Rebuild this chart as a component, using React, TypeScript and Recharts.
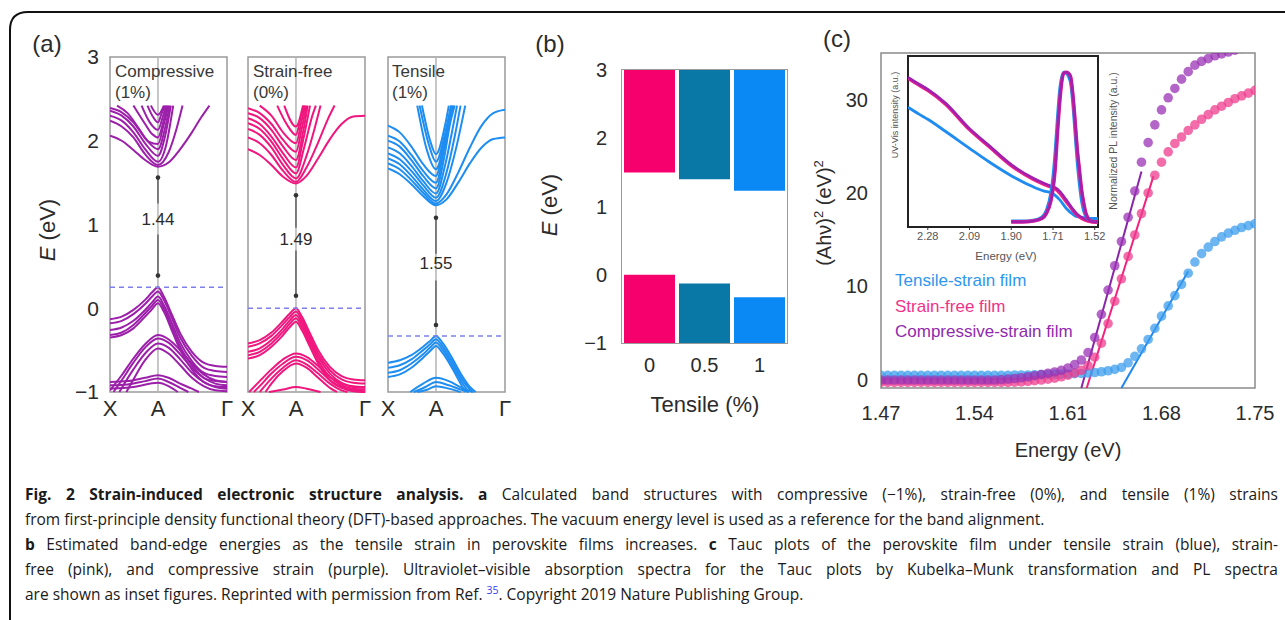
import React from "react";
import {
  LineChart, Line, XAxis, YAxis, ReferenceLine, ReferenceDot, ReferenceArea,
  BarChart, Bar, Cell, ScatterChart, Scatter,
} from "recharts";

const FONT = "'Liberation Sans', Arial, Helvetica, sans-serif";
const TXT = "#2b2b2b";

// ---------- (a) band structures: bands are [k, E] pairs; k = 0 at X, 0.41 at A, 1 at Γ
const kTicks = [0, 0.41, 1];
const kLabels = ["X", "A", "Γ"];

const compCond = [
  [[0, 2.06], [0.1, 2.0], [0.2, 1.89], [0.3, 1.77], [0.41, 1.69], [0.5, 1.74], [0.6, 1.9], [0.7, 2.1], [0.78, 2.28], [0.85, 2.42]],
  [[0, 2.24], [0.1, 2.17], [0.2, 2.04], [0.3, 1.84], [0.41, 1.71], [0.5, 1.86], [0.57, 2.15], [0.62, 2.42]],
  [[0, 2.3], [0.1, 2.24], [0.2, 2.1], [0.3, 1.9], [0.41, 1.75], [0.48, 1.95], [0.54, 2.42]],
  [[0, 2.36], [0.1, 2.3], [0.2, 2.17], [0.3, 1.97], [0.41, 1.82], [0.47, 2.05], [0.52, 2.42]],
  [[0, 2.39], [0.1, 2.34], [0.2, 2.22], [0.3, 2.03], [0.41, 1.9], [0.47, 2.15], [0.51, 2.42]],
  [[0.06, 2.42], [0.15, 2.33], [0.25, 2.14], [0.33, 1.99], [0.41, 1.96], [0.46, 2.2], [0.5, 2.42]],
  [[0.2, 2.42], [0.3, 2.2], [0.36, 2.08], [0.41, 2.04], [0.46, 2.25], [0.49, 2.42]],
  [[0.27, 2.42], [0.34, 2.22], [0.41, 2.13], [0.45, 2.28], [0.48, 2.42]],
  [[0.32, 2.42], [0.37, 2.28], [0.41, 2.22], [0.44, 2.32], [0.47, 2.42]],
  [[0.35, 2.42], [0.41, 2.31], [0.46, 2.42]],
];
const compVal = [
  [[0, -0.13], [0.1, -0.1], [0.2, -0.02], [0.3, 0.1], [0.36, 0.19], [0.41, 0.25], [0.46, 0.14], [0.53, -0.08], [0.6, -0.3], [0.7, -0.52], [0.8, -0.65], [0.9, -0.69], [1, -0.7]],
  [[0, -0.18], [0.1, -0.15], [0.2, -0.07], [0.3, 0.05], [0.36, 0.14], [0.41, 0.2], [0.46, 0.1], [0.53, -0.12], [0.6, -0.35], [0.7, -0.57], [0.8, -0.71], [0.9, -0.75], [1, -0.76]],
  [[0, -0.26], [0.1, -0.23], [0.2, -0.15], [0.3, -0.02], [0.36, 0.07], [0.41, 0.14], [0.46, 0.04], [0.53, -0.18], [0.6, -0.41], [0.7, -0.63], [0.8, -0.77], [0.9, -0.81], [1, -0.82]],
  [[0, -0.32], [0.1, -0.29], [0.2, -0.2], [0.3, -0.06], [0.36, 0.03], [0.41, 0.1], [0.46, 0.0], [0.53, -0.23], [0.6, -0.46], [0.7, -0.68], [0.8, -0.83], [0.9, -0.87], [1, -0.88]],
  [[0, -0.35], [0.1, -0.32], [0.2, -0.24], [0.3, -0.1], [0.36, -0.01], [0.41, 0.06], [0.46, -0.04], [0.53, -0.27], [0.6, -0.5], [0.7, -0.73], [0.8, -0.88], [0.9, -0.93], [1, -0.94]],
  [[0, -0.98], [0.1, -0.8], [0.2, -0.6], [0.3, -0.43], [0.41, -0.32], [0.5, -0.37], [0.6, -0.5], [0.7, -0.66], [0.8, -0.79], [0.9, -0.86], [1, -0.88]],
  [[0.03, -1], [0.1, -0.86], [0.2, -0.65], [0.3, -0.47], [0.41, -0.36], [0.5, -0.41], [0.6, -0.55], [0.7, -0.71], [0.8, -0.83], [0.9, -0.9], [1, -0.92]],
  [[0.08, -1], [0.2, -0.73], [0.3, -0.54], [0.41, -0.42], [0.5, -0.47], [0.6, -0.61], [0.7, -0.77], [0.8, -0.88], [0.9, -0.94], [1, -0.96]],
  [[0.14, -1], [0.2, -0.85], [0.3, -0.62], [0.41, -0.48], [0.5, -0.54], [0.6, -0.68], [0.7, -0.83], [0.8, -0.93], [0.9, -0.98], [1, -0.99]],
  [[0, -0.88], [0.15, -0.87], [0.3, -0.83], [0.41, -0.8], [0.5, -0.83], [0.6, -0.9], [0.7, -0.96], [0.76, -1]],
  [[0, -0.92], [0.15, -0.91], [0.3, -0.87], [0.41, -0.84], [0.5, -0.88], [0.6, -0.95], [0.67, -1]],
  [[0, -0.96], [0.2, -0.94], [0.41, -0.89], [0.5, -0.93], [0.58, -1]],
];

const freeCond = [
  [[0, 1.9], [0.1, 1.83], [0.2, 1.71], [0.3, 1.57], [0.41, 1.49], [0.5, 1.58], [0.6, 1.79], [0.7, 2.02], [0.8, 2.2], [0.9, 2.29], [1, 2.3]],
  [[0, 2.04], [0.1, 1.97], [0.2, 1.83], [0.3, 1.64], [0.41, 1.51], [0.5, 1.68], [0.6, 1.98], [0.68, 2.25], [0.74, 2.42]],
  [[0, 2.14], [0.1, 2.07], [0.2, 1.92], [0.3, 1.71], [0.41, 1.55], [0.5, 1.82], [0.57, 2.15], [0.62, 2.42]],
  [[0, 2.21], [0.1, 2.14], [0.2, 1.99], [0.3, 1.78], [0.41, 1.61], [0.48, 1.92], [0.55, 2.3], [0.58, 2.42]],
  [[0, 2.27], [0.1, 2.2], [0.2, 2.05], [0.3, 1.85], [0.41, 1.68], [0.47, 2.0], [0.53, 2.42]],
  [[0, 2.33], [0.1, 2.27], [0.2, 2.13], [0.3, 1.93], [0.41, 1.77], [0.47, 2.1], [0.51, 2.42]],
  [[0, 2.39], [0.1, 2.33], [0.2, 2.2], [0.3, 2.01], [0.41, 1.87], [0.46, 2.15], [0.5, 2.42]],
  [[0.1, 2.42], [0.2, 2.3], [0.3, 2.1], [0.41, 1.97], [0.46, 2.25], [0.49, 2.42]],
  [[0.25, 2.42], [0.33, 2.2], [0.41, 2.07], [0.45, 2.28], [0.48, 2.42]],
  [[0.31, 2.42], [0.41, 2.17], [0.47, 2.42]],
];
const freeVal = [
  [[0, -0.42], [0.1, -0.38], [0.2, -0.29], [0.3, -0.15], [0.36, -0.06], [0.41, 0], [0.46, -0.1], [0.53, -0.3], [0.6, -0.5], [0.7, -0.7], [0.8, -0.81], [0.9, -0.85], [1, -0.86]],
  [[0, -0.46], [0.1, -0.42], [0.2, -0.33], [0.3, -0.19], [0.36, -0.1], [0.41, -0.04], [0.46, -0.14], [0.53, -0.34], [0.6, -0.54], [0.7, -0.74], [0.8, -0.85], [0.9, -0.89], [1, -0.9]],
  [[0, -0.52], [0.1, -0.48], [0.2, -0.38], [0.3, -0.24], [0.36, -0.14], [0.41, -0.08], [0.46, -0.18], [0.53, -0.38], [0.6, -0.58], [0.7, -0.78], [0.8, -0.89], [0.9, -0.93], [1, -0.94]],
  [[0, -0.56], [0.1, -0.52], [0.2, -0.42], [0.3, -0.28], [0.36, -0.18], [0.41, -0.12], [0.46, -0.22], [0.53, -0.42], [0.6, -0.62], [0.7, -0.82], [0.8, -0.92], [0.9, -0.96], [1, -0.97]],
  [[0, -0.6], [0.1, -0.56], [0.2, -0.46], [0.3, -0.32], [0.36, -0.22], [0.41, -0.16], [0.46, -0.26], [0.53, -0.46], [0.6, -0.66], [0.7, -0.86], [0.8, -0.95], [0.9, -0.99], [1, -1]],
  [[0.01, -1], [0.1, -0.87], [0.2, -0.73], [0.3, -0.61], [0.41, -0.54], [0.5, -0.58], [0.6, -0.69], [0.7, -0.82], [0.8, -0.9], [0.9, -0.94], [1, -0.95]],
  [[0.05, -1], [0.1, -0.93], [0.2, -0.78], [0.3, -0.66], [0.41, -0.58], [0.5, -0.62], [0.6, -0.73], [0.7, -0.86], [0.8, -0.94], [0.9, -0.98], [1, -0.99]],
  [[0.1, -1], [0.2, -0.84], [0.3, -0.71], [0.41, -0.62], [0.5, -0.67], [0.6, -0.78], [0.7, -0.9], [0.8, -0.98], [0.85, -1]],
  [[0.15, -1], [0.2, -0.9], [0.3, -0.75], [0.41, -0.66], [0.5, -0.71], [0.6, -0.83], [0.7, -0.95], [0.76, -1]],
  [[0.18, -1], [0.3, -0.97], [0.41, -0.94], [0.5, -0.96], [0.62, -1]],
];

const tensCond = [
  [[0, 1.67], [0.1, 1.6], [0.2, 1.48], [0.3, 1.34], [0.41, 1.23], [0.5, 1.3], [0.6, 1.5], [0.7, 1.73], [0.8, 1.92], [0.9, 2.02], [1, 2.04]],
  [[0, 1.73], [0.1, 1.66], [0.2, 1.53], [0.3, 1.38], [0.41, 1.25], [0.5, 1.36], [0.6, 1.62], [0.7, 1.92], [0.8, 2.18], [0.9, 2.33], [1, 2.37]],
  [[0, 1.79], [0.1, 1.72], [0.2, 1.58], [0.3, 1.42], [0.41, 1.28], [0.5, 1.5], [0.58, 1.9], [0.66, 2.42]],
  [[0, 1.85], [0.1, 1.78], [0.2, 1.64], [0.3, 1.47], [0.41, 1.32], [0.5, 1.62], [0.57, 2.05], [0.62, 2.42]],
  [[0, 1.92], [0.1, 1.85], [0.2, 1.7], [0.3, 1.52], [0.41, 1.37], [0.49, 1.72], [0.56, 2.2], [0.59, 2.42]],
  [[0, 2.0], [0.1, 1.93], [0.2, 1.77], [0.3, 1.58], [0.41, 1.43], [0.48, 1.8], [0.53, 2.2], [0.57, 2.42]],
  [[0, 2.06], [0.1, 1.99], [0.2, 1.83], [0.3, 1.64], [0.41, 1.5], [0.48, 1.9], [0.55, 2.42]],
  [[0, 2.18], [0.1, 2.1], [0.2, 1.93], [0.3, 1.72], [0.41, 1.58], [0.48, 2.0], [0.54, 2.42]],
  [[0.25, 2.42], [0.33, 1.9], [0.41, 1.66], [0.5, 2.1], [0.56, 2.42]],
  [[0.27, 2.42], [0.35, 1.95], [0.41, 1.75], [0.49, 2.1], [0.54, 2.42]],
  [[0.29, 2.42], [0.36, 2.0], [0.41, 1.84], [0.49, 2.2], [0.52, 2.42]],
];
const tensVal = [
  [[0, -0.65], [0.1, -0.62], [0.2, -0.56], [0.3, -0.46], [0.36, -0.39], [0.41, -0.33], [0.47, -0.42], [0.55, -0.6], [0.63, -0.8], [0.7, -0.94], [0.75, -1]],
  [[0, -0.71], [0.1, -0.68], [0.2, -0.61], [0.3, -0.5], [0.36, -0.43], [0.41, -0.37], [0.47, -0.46], [0.55, -0.64], [0.63, -0.84], [0.7, -0.97], [0.72, -1]],
  [[0, -0.77], [0.1, -0.74], [0.2, -0.66], [0.3, -0.55], [0.36, -0.47], [0.41, -0.41], [0.47, -0.5], [0.55, -0.68], [0.63, -0.88], [0.69, -1]],
  [[0, -0.82], [0.1, -0.79], [0.2, -0.71], [0.3, -0.59], [0.36, -0.51], [0.41, -0.45], [0.47, -0.54], [0.55, -0.72], [0.62, -0.9], [0.66, -1]],
  [[0.19, -1], [0.3, -0.9], [0.41, -0.83], [0.52, -0.87], [0.63, -0.95], [0.73, -1]],
  [[0.22, -1], [0.32, -0.94], [0.41, -0.88], [0.52, -0.92], [0.62, -0.97], [0.69, -1]],
  [[0.25, -1], [0.34, -0.97], [0.41, -0.93], [0.52, -0.96], [0.62, -1]],
];

const bandColors = ["#9C1FAA", "#F0167E", "#1E8DF2"];
const vbmLevels = [0.25, 0, -0.33];
const gapLabels = ["1.44", "1.49", "1.55"];
const gapLabelE = [1.07, 0.83, 0.54];
// arrow segments [lowStart, lowEnd, highStart, highEnd]
const gapArrows = [
  [0.39, 0.88, 1.25, 1.56],
  [0.15, 0.69, 0.96, 1.35],
  [-0.2, 0.33, 0.65, 1.08],
];
const panelTitles = [["Compressive", "(1%)"], ["Strain-free", "(0%)"], ["Tensile", "(1%)"]];

// ---------- (b) band edges
const strainCats = ["0", "0.5", "1"];
const cbEdge = [1.5, 1.4, 1.23];
const vbEdge = [0, -0.13, -0.33];
const barColors = ["#F5006D", "#0A78A6", "#0A88F4"];

// ---------- (c) Tauc plot
const energies = [
  1.470, 1.475, 1.480, 1.485, 1.490, 1.495, 1.500, 1.505, 1.510, 1.515, 1.520, 1.525, 1.530, 1.535, 1.540,
  1.545, 1.550, 1.555, 1.560, 1.565, 1.570, 1.575, 1.580, 1.585, 1.590, 1.595, 1.600, 1.605, 1.610, 1.615,
  1.620, 1.625, 1.630, 1.635, 1.640, 1.645, 1.650, 1.655, 1.660, 1.665, 1.670, 1.675, 1.680, 1.685, 1.690,
  1.695, 1.700, 1.705, 1.710, 1.715, 1.720, 1.725, 1.730, 1.735, 1.740, 1.745, 1.750,
];
const tensileTauc = [
  0.45, 0.45, 0.45, 0.45, 0.45, 0.45, 0.45, 0.45, 0.45, 0.45, 0.45, 0.45, 0.45, 0.45, 0.45,
  0.45, 0.45, 0.45, 0.45, 0.45, 0.48, 0.5, 0.5, 0.52, 0.53, 0.55, 0.56, 0.58, 0.6, 0.63,
  0.66, 0.7, 0.76, 0.84, 0.95, 1.1, 1.3, 1.8, 2.5, 3.3, 4.3, 5.5, 6.8, 7.9, 9.0,
  10.2, 11.4, 12.6, 13.5, 14.2, 14.8, 15.3, 15.7, 16.0, 16.3, 16.5, 16.7,
];
const freeTauc = [
  -0.3, -0.3, -0.3, -0.3, -0.3, -0.3, -0.3, -0.3, -0.3, -0.3, -0.3, -0.3, -0.3, -0.3, -0.3,
  -0.3, -0.3, -0.3, -0.3, -0.3, -0.28, -0.25, -0.2, -0.12, -0.05, 0.05, 0.15, 0.3, 0.48, 0.7,
  1.0, 1.5, 2.4, 3.9, 6.0, 8.4, 10.8, 13.2, 15.5, 17.8, 20.0, 21.9, 23.3, 24.4, 25.3,
  26.0, 26.7, 27.3, 27.9, 28.4, 28.9, 29.3, 29.7, 30.1, 30.4, 30.7, 31.0,
];
const compTauc = [
  -0.05, -0.05, -0.05, -0.05, -0.05, -0.05, -0.05, -0.05, -0.05, -0.05, -0.05, -0.05, -0.05, -0.05, -0.05,
  -0.05, -0.05, -0.05, 0.0, 0.05, 0.12, 0.2, 0.3, 0.42, 0.55, 0.68, 0.82, 1.0, 1.25, 1.6,
  2.1, 2.9, 4.5, 7.0, 9.6, 12.2, 14.8, 17.4, 20.2, 23.3, 25.4, 27.3, 28.9, 30.2, 31.2,
  32.2, 33.0, 33.7, 34.1, 34.4, 34.7, 34.9, 35.1, 35.3, 35.5, 35.7, 35.9,
];
const tensileFit = [{ e: 1.65, y: -0.9 }, { e: 1.7, y: 11.6 }];
const freeFit = [{ e: 1.624, y: -0.9 }, { e: 1.674, y: 21.8 }];
const compFit = [{ e: 1.62, y: -0.9 }, { e: 1.665, y: 22.3 }];
const eTicks = [1.47, 1.54, 1.61, 1.68, 1.75];

// ---------- (c) inset: UV-Vis and PL
const uvEnergy = [2.37, 2.32, 2.28, 2.2, 2.09, 2.0, 1.9, 1.8, 1.75, 1.72, 1.7, 1.68, 1.65, 1.62, 1.6, 1.57, 1.55, 1.52, 1.505];
const uvFree = [0.87, 0.83, 0.8, 0.72, 0.57, 0.47, 0.36, 0.28, 0.25, 0.235, 0.225, 0.2, 0.15, 0.1, 0.07, 0.045, 0.035, 0.03, 0.03];
const uvComp = [0.875, 0.835, 0.805, 0.725, 0.575, 0.475, 0.365, 0.285, 0.255, 0.24, 0.23, 0.21, 0.16, 0.105, 0.075, 0.05, 0.04, 0.035, 0.035];
const uvTensile = [0.7, 0.66, 0.63, 0.56, 0.46, 0.38, 0.3, 0.235, 0.21, 0.2, 0.185, 0.16, 0.11, 0.075, 0.06, 0.055, 0.05, 0.05, 0.05];
const plEnergy = [1.9, 1.85, 1.8, 1.76, 1.74, 1.72, 1.71, 1.7, 1.69, 1.68, 1.67, 1.66, 1.65, 1.64, 1.63, 1.62, 1.61, 1.6, 1.59, 1.58, 1.57, 1.56, 1.55, 1.54, 1.52, 1.505];
const plFree = [0.03, 0.03, 0.035, 0.05, 0.08, 0.15, 0.22, 0.34, 0.54, 0.72, 0.85, 0.9, 0.905, 0.9, 0.88, 0.78, 0.63, 0.46, 0.34, 0.22, 0.14, 0.08, 0.05, 0.035, 0.03, 0.03];
const plComp = [0.03, 0.03, 0.035, 0.05, 0.08, 0.15, 0.22, 0.34, 0.54, 0.72, 0.85, 0.9, 0.905, 0.9, 0.88, 0.79, 0.64, 0.47, 0.34, 0.22, 0.14, 0.08, 0.05, 0.035, 0.03, 0.03];
const plTensile = [0.035, 0.035, 0.04, 0.06, 0.1, 0.2, 0.3, 0.45, 0.64, 0.8, 0.88, 0.905, 0.9, 0.88, 0.84, 0.72, 0.55, 0.38, 0.25, 0.15, 0.09, 0.06, 0.045, 0.04, 0.04, 0.04];
const insetTicks = [2.28, 2.09, 1.9, 1.71, 1.52];

const BLUE = "#3C9EEC", PINK = "#EE3C8E", PURPLE = "#9A33B4";

const minus = (v: number) => (v < 0 ? `−${Math.abs(v)}` : `${v}`);

function Txt({ x, y, rot = 0, size, color = TXT, children, style = {} }: any) {
  return (
    <div
      style={{
        position: "absolute", left: x, top: y, fontSize: size, color, fontFamily: FONT,
        whiteSpace: "nowrap", lineHeight: 1, transform: `translate(-50%, -50%) rotate(${rot}deg)`, ...style,
      }}
    >
      {children}
    </div>
  );
}

function CapLine({ top, justify, children }: any) {
  return (
    <div
      style={{
        position: "absolute", left: 25, top, width: 1253, fontFamily: "'Open Sans', 'Noto Sans', sans-serif",
        fontSize: 15.5, lineHeight: "25px", color: "#1a1a1a",
        textAlign: justify ? "justify" : "left", textAlignLast: justify ? "justify" : "left",
      }}
    >
      {children}
    </div>
  );
}

function BandPanel({ i, plotLeft, cond, val }: any) {
  const showY = i === 0;
  const yw = showY ? 70 : 0;
  const ml = showY ? 0 : 12;
  const color = bandColors[i];
  const [a0, a1, b0, b1] = gapArrows[i];
  const tick = { fontSize: 21, fill: TXT, fontFamily: FONT };
  return (
    <div style={{ position: "absolute", left: plotLeft - yw - ml, top: 40 }}>
      <LineChart width={ml + yw + 117 + 12} height={392} margin={{ top: 17, right: 12, bottom: 4, left: ml }}>
        <XAxis type="number" dataKey="k" domain={[0, 1]} ticks={kTicks} interval={0} allowDataOverflow
          tickFormatter={(v) => kLabels[kTicks.indexOf(v)]} axisLine={false} tickLine={false}
          tickSize={6} tickMargin={2} height={36} tick={{ ...tick, fontSize: 22 }} />
        <YAxis type="number" domain={[-1, 3]} ticks={[-1, 0, 1, 2, 3]} hide={!showY} width={yw}
          axisLine={false} tickLine={false} tickSize={6} tickMargin={5} tickFormatter={minus} tick={tick} />
        <ReferenceLine x={0.41} stroke="#b4b4b4" strokeWidth={1.5} />
        {[...val, ...cond].map((b: number[][], j: number) => (
          <Line key={j} data={b.map(([k, e]) => ({ k, e }))} dataKey="e" type="monotone"
            stroke={color} strokeWidth={2} dot={false} isAnimationActive={false} />
        ))}
        <ReferenceLine y={vbmLevels[i]} stroke="#7f7ff0" strokeWidth={1.5} strokeDasharray="5 4" />
        <ReferenceLine segment={[{ x: 0.41, y: a0 }, { x: 0.41, y: a1 }]} stroke="#555" strokeWidth={1.3} />
        <ReferenceLine segment={[{ x: 0.41, y: b0 }, { x: 0.41, y: b1 }]} stroke="#555" strokeWidth={1.3} />
        <ReferenceDot x={0.41} y={a0} r={2.3} fill="#333" stroke="none" />
        <ReferenceDot x={0.41} y={b1} r={2.3} fill="#333" stroke="none" />
        <ReferenceDot x={0.41} y={gapLabelE[i]} r={1} fill="none" stroke="none"
          label={{ value: gapLabels[i], position: "center", fontSize: 17, fill: TXT, fontFamily: FONT }} />
        <ReferenceArea x1={0} x2={1} y1={-1} y2={3} fill="none" stroke="#9a9a9a" strokeWidth={1.5} />
      </LineChart>
    </div>
  );
}

function dotShape(color: string) {
  return (p: any) => <circle cx={p.cx} cy={p.cy} r={4.8} fill={color} fillOpacity={0.75} />;
}

export default function App() {
  const barData = strainCats.map((t, i) => ({ t, cb: [cbEdge[i], 3], vb: [-1, vbEdge[i]] }));
  const pts = (vals: number[]) => vals.map((y, i) => ({ e: energies[i], y }));
  const inset = (xs: number[], ys: number[]) => xs.map((e, i) => ({ e, v: ys[i] }));
  const tick20 = { fontSize: 20, fill: TXT, fontFamily: FONT };
  const panelLefts = [110, 248, 388];
  const conds = [compCond, freeCond, tensCond];
  const vals = [compVal, freeVal, tensVal];
  const titleLefts = [115, 253, 392];
  const bold = { fontWeight: 700 };

  return (
    <div style={{ position: "absolute", left: 0, top: 0, width: 1285, height: 620, background: "#fff", overflow: "hidden" }}>
      <svg width={1285} height={620} style={{ position: "absolute", left: 0, top: 0 }}>
        <path d="M10 620 L10 30 Q10 12 28 12 L1285 12" fill="none" stroke="#111" strokeWidth={2} />
      </svg>

      {/* caption */}
      <CapLine top={482} justify>
        <span style={bold}>Fig. 2 Strain-induced electronic structure analysis. a</span> Calculated band structures with compressive (−1%), strain-free (0%), and tensile (1%) strains
      </CapLine>
      <CapLine top={507}>
        from first-principle density functional theory (DFT)-based approaches. The vacuum energy level is used as a reference for the band alignment.
      </CapLine>
      <CapLine top={532} justify>
        <span style={bold}>b</span> Estimated band-edge energies as the tensile strain in perovskite films increases. <span style={bold}>c</span> Tauc plots of the perovskite film under tensile strain (blue), strain-
      </CapLine>
      <CapLine top={557} justify>
        free (pink), and compressive strain (purple). Ultraviolet–visible absorption spectra for the Tauc plots by Kubelka–Munk transformation and PL spectra
      </CapLine>
      <CapLine top={582}>
        are shown as inset figures. Reprinted with permission from Ref. <sup style={{ fontSize: 10.5, color: "#3b3bf0", lineHeight: 0 }}>35</sup>. Copyright 2019 Nature Publishing Group.
      </CapLine>

      {/* (a) */}
      {panelLefts.map((pl, i) => (
        <BandPanel key={i} i={i} plotLeft={pl} cond={conds[i]} val={vals[i]} />
      ))}
      {panelTitles.map((t, i) => (
        <div key={i} style={{ position: "absolute", left: titleLefts[i], top: 61, fontSize: 17, lineHeight: "21px", color: "#383838", fontFamily: FONT }}>
          {t[0]}<br />{t[1]}
        </div>
      ))}
      <Txt x={47} y={44} size={24}>(a)</Txt>
      <Txt x={48} y={230} size={22} rot={-90}><i>E</i> (eV)</Txt>

      {/* (b) */}
      <div style={{ position: "absolute", left: 530, top: 50 }}>
        <BarChart width={267} height={338} data={barData} margin={{ top: 20, right: 10, bottom: 5, left: 0 }} barSize={51}>
          <XAxis xAxisId="main" dataKey="t" height={40} tickLine={false} axisLine={false}
            tickSize={6} tickMargin={9} tick={tick20} />
          <XAxis xAxisId="alt" dataKey="t" hide height={0} />
          <YAxis type="number" domain={[-1, 3]} ticks={[-1, 0, 1, 2, 3]} width={92} tickLine={false}
            axisLine={false} tickSize={6} tickMargin={9} tickFormatter={minus} tick={tick20} allowDataOverflow />
          <Bar xAxisId="main" dataKey="cb" isAnimationActive={false}>
            {barData.map((d, i) => <Cell key={i} fill={barColors[i]} />)}
          </Bar>
          <Bar xAxisId="alt" dataKey="vb" isAnimationActive={false}>
            {barData.map((d, i) => <Cell key={i} fill={barColors[i]} />)}
          </Bar>
        </BarChart>
      </div>
      {/* plot frame of (b) */}
      <div style={{ position: "absolute", left: 621, top: 69, width: 167, height: 275, border: "1.5px solid #9a9a9a", boxSizing: "border-box", pointerEvents: "none" }} />
      <Txt x={550} y={44} size={24}>(b)</Txt>
      <Txt x={550} y={205} size={22} rot={-90}><i>E</i> (eV)</Txt>
      <Txt x={705} y={405} size={22}>Tensile (%)</Txt>

      {/* (c) main */}
      <div style={{ position: "absolute", left: 800, top: 30 }}>
        <ScatterChart width={482} height={400} margin={{ top: 23, right: 27, bottom: 2, left: 0 }}>
          <XAxis type="number" dataKey="e" domain={[1.47, 1.75]} ticks={eTicks} interval={0} allowDataOverflow
            tickFormatter={(v) => v.toFixed(2)} height={40} axisLine={false} tickLine={false}
            tickSize={6} tickMargin={12} tick={tick20} />
          <YAxis type="number" dataKey="y" domain={[-0.9, 35]} ticks={[0, 10, 20, 30]} width={81} allowDataOverflow
            axisLine={false} tickLine={false} tickSize={6} tickMargin={7} tick={tick20} />
          <Scatter data={pts(tensileTauc)} shape={dotShape(BLUE)} isAnimationActive={false} />
          <Scatter data={pts(freeTauc)} shape={dotShape(PINK)} isAnimationActive={false} />
          <Scatter data={pts(compTauc)} shape={dotShape(PURPLE)} isAnimationActive={false} />
          <ReferenceLine segment={tensileFit.map((p) => ({ x: p.e, y: p.y }))} stroke="#1E86EE" strokeWidth={2} />
          <ReferenceLine segment={freeFit.map((p) => ({ x: p.e, y: p.y }))} stroke="#F0207C" strokeWidth={2} />
          <ReferenceLine segment={compFit.map((p) => ({ x: p.e, y: p.y }))} stroke="#8A25A8" strokeWidth={2} />
          <ReferenceArea x1={1.47} x2={1.75} y1={-0.9} y2={35} fill="none" stroke="#8a8a8a" strokeWidth={1.5} />
        </ScatterChart>
      </div>
      <Txt x={837} y={39} size={24}>(c)</Txt>
      <Txt x={823} y={213} size={20} rot={-90}>(Ahν)<sup style={{ fontSize: 13 }}>2</sup> (eV)<sup style={{ fontSize: 13 }}>2</sup></Txt>
      <Txt x={1068} y={450} size={20}>Energy (eV)</Txt>
      <div style={{ position: "absolute", left: 895, top: 268, fontSize: 17, lineHeight: "25.5px", fontFamily: FONT }}>
        <div style={{ color: "#2E96EE" }}>Tensile-strain film</div>
        <div style={{ color: "#F0328A" }}>Strain-free film</div>
        <div style={{ color: "#8F2AAE" }}>Compressive-strain film</div>
      </div>

      {/* (c) inset */}
      <div style={{ position: "absolute", left: 907, top: 55, width: 192, height: 173, border: "2px solid #222", boxSizing: "border-box", background: "#fff" }} />
      <div style={{ position: "absolute", left: 898, top: 46 }}>
        <LineChart width={220} height={205} margin={{ top: 10, right: 20, bottom: 2, left: 0 }}>
          <XAxis type="number" dataKey="e" domain={[1.505, 2.37]} reversed ticks={insetTicks} interval={0} allowDataOverflow
            tickFormatter={(v) => v.toFixed(2)} height={22} axisLine={false} tickSize={3} tickMargin={2}
            tickLine={{ stroke: "#333" }} tick={{ fontSize: 11, fill: "#555", fontFamily: FONT }} />
          <YAxis yAxisId="uv" type="number" domain={[0, 1]} width={10} tick={false} axisLine={false} tickLine={false} />
          <YAxis yAxisId="pl" orientation="right" type="number" domain={[0, 1]} width={0} tick={false} axisLine={false} tickLine={false} />
          <Line yAxisId="uv" data={inset(uvEnergy, uvTensile)} dataKey="v" type="monotone" stroke="#1E8CF0" strokeWidth={2.8} dot={false} isAnimationActive={false} />
          <Line yAxisId="uv" data={inset(uvEnergy, uvFree)} dataKey="v" type="monotone" stroke="#F0208A" strokeWidth={3.6} dot={false} isAnimationActive={false} />
          <Line yAxisId="uv" data={inset(uvEnergy, uvComp)} dataKey="v" type="monotone" stroke="#A020B0" strokeWidth={2.6} dot={false} isAnimationActive={false} />
          <Line yAxisId="pl" data={inset(plEnergy, plTensile)} dataKey="v" type="monotone" stroke="#1E8CF0" strokeWidth={2.8} dot={false} isAnimationActive={false} />
          <Line yAxisId="pl" data={inset(plEnergy, plFree)} dataKey="v" type="monotone" stroke="#F0208A" strokeWidth={3.6} dot={false} isAnimationActive={false} />
          <Line yAxisId="pl" data={inset(plEnergy, plComp)} dataKey="v" type="monotone" stroke="#A020B0" strokeWidth={2.6} dot={false} isAnimationActive={false} />
        </LineChart>
      </div>
      <Txt x={895} y={115} size={9} rot={-90} color="#555">UV-Vis intensity (a.u.)</Txt>
      <Txt x={1113} y={141} size={10.5} rot={-90} color="#555">Normalized PL intensity (a.u.)</Txt>
      <Txt x={1006} y={257} size={11.5} color="#555">Energy (eV)</Txt>
    </div>
  );
}
